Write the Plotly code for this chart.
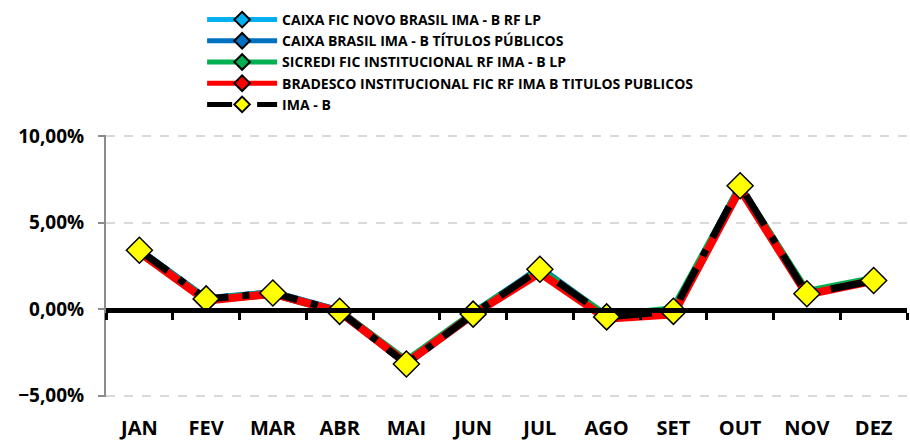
import plotly.graph_objects as go

# monthly returns (fractions)
months = ["JAN", "FEV", "MAR", "ABR", "MAI", "JUN", "JUL", "AGO", "SET", "OUT", "NOV", "DEZ"]
caixa_novo = [0.0335, 0.0055, 0.0092, -0.0014, -0.0305, -0.0025, 0.0228, -0.0050, -0.0018, 0.0700, 0.0090, 0.0170]
caixa_tp = [0.0338, 0.0058, 0.0093, -0.0012, -0.0310, -0.0030, 0.0235, -0.0045, -0.0015, 0.0705, 0.0092, 0.0168]
sicredi = [0.0330, 0.0055, 0.0090, -0.0015, -0.0300, -0.0025, 0.0225, -0.0040, 0.0000, 0.0700, 0.0100, 0.0175]
bradesco = [0.0330, 0.0050, 0.0090, -0.0015, -0.0310, -0.0030, 0.0210, -0.0055, -0.0030, 0.0695, 0.0085, 0.0165]
ima_b = [0.0341, 0.0060, 0.0094, -0.0012, -0.0316, -0.0028, 0.0231, -0.0044, -0.0012, 0.0714, 0.0090, 0.0166]

series = [
    ("CAIXA FIC NOVO BRASIL IMA - B RF LP", caixa_novo, "#00b0f0"),
    ("CAIXA BRASIL IMA - B TÍTULOS PÚBLICOS", caixa_tp, "#0070c0"),
    ("SICREDI FIC INSTITUCIONAL RF IMA - B LP", sicredi, "#00b050"),
    ("BRADESCO INSTITUCIONAL FIC RF IMA B TITULOS PUBLICOS", bradesco, "#ff0000"),
]

fig = go.Figure()
for name, vals, col in series:
    fig.add_trace(go.Scatter(x=months, y=vals, name=name, mode="lines+markers",
                             line=dict(color=col, width=8),
                             marker=dict(symbol="diamond", size=8, color=col,
                                         line=dict(color="black", width=1.5))))
fig.add_trace(go.Scatter(x=months, y=ima_b, name="IMA - B", mode="lines+markers",
                         line=dict(color="black", width=7, dash="longdashdot"),
                         marker=dict(symbol="diamond", size=20, color="#ffff00",
                                     line=dict(color="black", width=1.5))))
# labels-only axis at the bottom
fig.add_trace(go.Scatter(x=months, y=ima_b, xaxis="x2", mode="lines",
                         line=dict(width=0), opacity=0, showlegend=False, hoverinfo="skip"))

font = "Open Sans"
fig.update_layout(
    width=910, height=441,
    margin=dict(l=106, r=3, t=135, b=44, autoexpand=False),
    plot_bgcolor="white", paper_bgcolor="white",
    separators=",.",
    font=dict(family=font, color="black"),
    showlegend=True,
    legend=dict(x=0.12, y=1.5, xanchor="left", yanchor="top",
                font=dict(family=font, size=14, color="black", weight="bold"),
                itemwidth=70, itemsizing="constant", tracegroupgap=0,
                bgcolor="rgba(0,0,0,0)"),
    xaxis=dict(type="category", range=[-0.5, 11.5], anchor="free", position=1 / 3,
               showline=True, linecolor="black", linewidth=5,
               ticks="outside", tickson="boundaries", ticklen=7, tickwidth=3, tickcolor="black",
               showticklabels=False, showgrid=False, zeroline=False),
    xaxis2=dict(type="category", range=[-0.5, 11.5], overlaying="x", anchor="y", side="bottom",
                showline=False, ticks="", showgrid=False, zeroline=False,
                automargin=False, ticklabelstandoff=17,
                tickfont=dict(family=font, size=20, color="black", weight="bold")),
    yaxis=dict(range=[-0.0507, 0.1007], tickvals=[-0.05, 0, 0.05, 0.10], tickformat=".2%",
               showline=True, linecolor="#8c8c8c", linewidth=2, automargin=False,
               ticks="outside", ticklen=6, tickcolor="#8c8c8c", tickwidth=2,
               showgrid=True, gridcolor="#d9d9d9", griddash="dash", gridwidth=1.5,
               zeroline=False, ticklabelstandoff=10,
               tickfont=dict(family=font, size=19, color="black", weight="bold")),
)

fig.write_html("out.html", config={"displayModeBar": False},
               post_script="document.body.style.margin='0';")
